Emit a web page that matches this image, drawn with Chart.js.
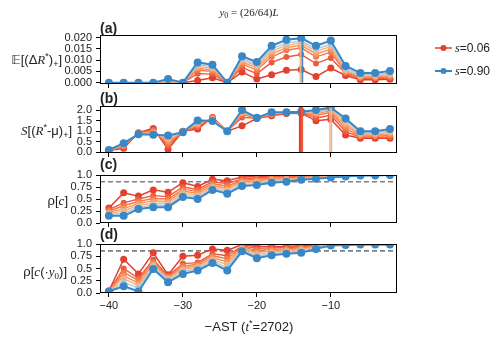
<!DOCTYPE html>
<html><head><meta charset="utf-8">
<script src="https://cdn.jsdelivr.net/npm/chart.js@4/dist/chart.umd.min.js"></script>
<style>
html,body{margin:0;padding:0;background:#fff;width:500px;height:343px;overflow:hidden}
canvas{position:absolute;left:0;top:0}
</style></head><body>
<canvas id="ca" width="500" height="343"></canvas>
<canvas id="cb" width="500" height="343"></canvas>
<canvas id="cc" width="500" height="343"></canvas>
<canvas id="cd" width="500" height="343"></canvas>
<canvas id="ov" width="500" height="343"></canvas>
<script>
// ---------------- DATA ----------------
const xValues = [-40,-38,-36,-34,-32,-30,-28,-26,-24,-22,-20,-18,-16,-14,-12,-10,-8,-6,-4,-2];
const sValues = [0.06, 0.20, 0.34, 0.48, 0.62, 0.76, 0.90];
const xTicks = [-40,-30,-20,-10];

// (a) E[(dR*)+], rows ordered s=0.06 ... s=0.90
const panelA = [
  [0,0,0,0,0,0,0.0010,0.0022,0,0.0047,0.0016,0.0035,0.0055,0.0058,0.0027,0.0065,0.0032,0.0013,0.0013,0.0015],
  [0,0,0,0,0,0,0.0040,0.0038,0,0.0068,0.0040,0.0090,0.0114,0.0125,0.0085,0.0110,0.0040,0.0018,0.0018,0.0021],
  [0,0,0,0,0.0001,0,0.0055,0.0050,0,0.0082,0.0056,0.0115,0.0144,0.0155,0.0115,0.0135,0.0045,0.0022,0.0022,0.0026],
  [0,0,0,0,0.0003,0,0.0064,0.0057,0,0.0090,0.0066,0.0128,0.0156,0.0166,0.0128,0.0148,0.0050,0.0026,0.0026,0.0031],
  [0,0,0,0,0.0006,0,0.0072,0.0064,0,0.0098,0.0074,0.0140,0.0166,0.0176,0.0140,0.0160,0.0055,0.0030,0.0030,0.0036],
  [0,0,0,0,0.0010,0,0.0080,0.0071,0,0.0106,0.0082,0.0150,0.0176,0.0185,0.0150,0.0172,0.0062,0.0035,0.0035,0.0042],
  [0,0,0,0,0.0016,0,0.0090,0.0080,0,0.0117,0.0092,0.0164,0.0191,0.0198,0.0164,0.0187,0.0074,0.0043,0.0043,0.0052]
];
// (b) S[(R*-mu)+]
const panelB = [
  [0.08,0.19,0.93,1.13,0.14,1.00,1.10,1.65,1.00,1.25,1.60,1.73,1.84,1.85,1.49,1.56,0.82,0.66,0.66,0.66],
  [0.08,0.24,0.92,1.07,0.30,1.00,1.18,1.64,1.00,1.65,1.61,1.77,1.86,1.88,1.62,1.75,0.98,0.72,0.72,0.72],
  [0.09,0.29,0.91,1.01,0.40,0.99,1.25,1.62,1.00,1.78,1.62,1.80,1.87,1.90,1.74,1.89,1.12,0.77,0.77,0.79],
  [0.09,0.33,0.90,0.96,0.52,0.98,1.32,1.60,1.00,1.85,1.63,1.82,1.88,1.92,1.82,1.97,1.26,0.82,0.82,0.86],
  [0.10,0.37,0.88,0.91,0.63,0.97,1.38,1.56,1.00,1.90,1.63,1.84,1.88,1.93,1.88,2.03,1.38,0.88,0.88,0.94],
  [0.10,0.40,0.87,0.87,0.72,0.96,1.45,1.52,0.99,1.95,1.64,1.86,1.89,1.93,1.93,2.08,1.50,0.94,0.94,1.02],
  [0.11,0.43,0.85,0.83,0.80,0.95,1.51,1.48,0.99,2.00,1.64,1.89,1.89,1.92,2.00,2.12,1.60,1.00,1.00,1.10]
];
// (c) rho[c]
const panelC = [
  [0.31,0.63,0.56,0.69,0.64,0.84,0.76,0.91,0.88,0.96,0.97,0.98,0.98,0.99,1.00,1.00,1.00,1.00,1.00,1.00],
  [0.28,0.42,0.50,0.57,0.55,0.75,0.70,0.86,0.82,0.92,0.94,0.96,0.96,0.97,0.98,0.99,1.00,1.00,1.00,1.00],
  [0.25,0.36,0.45,0.51,0.50,0.70,0.66,0.82,0.77,0.89,0.91,0.93,0.94,0.96,0.97,0.99,0.99,1.00,1.00,1.00],
  [0.22,0.30,0.41,0.46,0.45,0.66,0.62,0.78,0.73,0.86,0.88,0.91,0.92,0.94,0.96,0.98,0.99,1.00,1.00,1.00],
  [0.20,0.25,0.37,0.41,0.41,0.62,0.58,0.75,0.69,0.83,0.85,0.88,0.90,0.93,0.94,0.97,0.98,0.99,1.00,1.00],
  [0.18,0.20,0.33,0.37,0.37,0.58,0.54,0.72,0.65,0.80,0.82,0.86,0.88,0.91,0.93,0.96,0.98,0.99,0.99,1.00],
  [0.15,0.15,0.29,0.33,0.33,0.54,0.50,0.69,0.61,0.77,0.79,0.84,0.86,0.90,0.92,0.95,0.97,0.99,0.99,1.00]
];
// (d) rho[c(.y0)]
const panelD = [
  [0.04,0.69,0.39,0.82,0.37,0.75,0.77,0.90,0.87,0.99,0.95,0.95,0.95,0.97,0.98,1.00,1.00,1.00,1.00,1.00],
  [0.04,0.50,0.30,0.68,0.35,0.60,0.62,0.80,0.76,0.96,0.91,0.92,0.93,0.94,0.97,0.99,0.99,0.99,0.99,0.99],
  [0.04,0.42,0.26,0.63,0.33,0.55,0.59,0.76,0.70,0.94,0.87,0.89,0.90,0.92,0.96,0.99,0.99,0.99,0.99,0.99],
  [0.04,0.35,0.20,0.59,0.31,0.51,0.56,0.72,0.64,0.92,0.83,0.86,0.88,0.90,0.95,0.98,0.99,0.99,0.99,0.99],
  [0.03,0.29,0.15,0.56,0.29,0.47,0.53,0.68,0.58,0.90,0.79,0.83,0.85,0.88,0.93,0.98,0.99,0.99,0.99,0.99],
  [0.03,0.22,0.10,0.53,0.26,0.43,0.50,0.65,0.52,0.88,0.75,0.80,0.83,0.85,0.92,0.97,0.99,0.99,0.99,0.99],
  [0.03,0.14,0.03,0.49,0.22,0.39,0.46,0.61,0.46,0.85,0.71,0.77,0.80,0.82,0.90,0.97,0.98,0.99,0.99,0.99]
];
// vertical spikes [x, yTop, seriesIndex]
const spikesA = [[-14.1, 0.0185, 4], [-13.85, 0.0198, 6]];
const spikesB = [[-14.15, 2.3, 0], [-13.9, 2.3, 1], [-10.1, 2.12, 4], [-9.9, 2.12, 5]];
const rhoThreshold = 0.86;

const yTicksA = [0, 0.005, 0.010, 0.015, 0.020];
const yLabelsA = ['0.000','0.005','0.010','0.015','0.020'];
const yTicksB = [0, 0.5, 1.0, 1.5, 2.0];
const yLabelsB = ['0.0','0.5','1.0','1.5','2.0'];
const yTicksR = [0, 0.25, 0.5, 0.75, 1.0];
const yLabelsR = ['0.0','0.25','0.5','0.75','1.0'];

// ---------------- STYLE ----------------
const colors = ['#e3402f','#ec5b3d','#f2774a','#f69459','#f8b27d','#a8c8e2','#3987c4'];
const radii  = [3.5, 3, 3, 3, 3, 3, 4];
const widths = [1.5, 1.4, 1.4, 1.4, 1.4, 1.4, 2];
const spikeWidthsB = [2.4, 2.4, 1.5, 1.5];
const X_MIN = -41.2, X_MAX = -1.05;
const LEFT = 100, RIGHT = 397, W = 500, H = 343;

const boxPlugin = {
  id: 'box',
  afterDraw(chart) {
    const a = chart.chartArea, c = chart.ctx;
    c.save(); c.strokeStyle = '#000'; c.lineWidth = 1;
    c.strokeRect(Math.round(a.left)+0.5, Math.round(a.top)+0.5, Math.round(a.right-a.left)-1, Math.round(a.bottom-a.top)-1);
    c.restore();
  }
};

function makePanel(id, rows, spikes, spikeWidths, yMin, yMax, yTicks, yLabels, top, bottom, showX, thresh) {
  const xh = showX ? 22 : 6;
  const ds = [];
  rows.forEach((row, k) => {
    ds.push({
      data: xValues.map((x, i) => ({x, y: row[i]})),
      borderColor: colors[k], backgroundColor: colors[k],
      pointRadius: radii[k], pointBorderWidth: 0, pointHoverRadius: radii[k],
      borderWidth: widths[k], showLine: true, tension: 0,
      order: rows.length - k + 5
    });
  });
  (spikes || []).forEach((sp, j) => {
    ds.push({
      data: [{x: sp[0], y: 0}, {x: sp[0], y: sp[1]}],
      borderColor: colors[sp[2]], borderWidth: spikeWidths ? spikeWidths[j] : 1.8, pointRadius: 0, showLine: true, order: 2
    });
  });
  if (thresh !== undefined) {
    ds.push({
      data: [{x: X_MIN, y: thresh}, {x: X_MAX, y: thresh}],
      borderColor: '#808080', borderWidth: 1.6, borderDash: [5, 3], pointRadius: 0, showLine: true, order: 100
    });
  }
  const gridOpt = {display: true, drawOnChartArea: false, drawTicks: true, tickLength: 4, color: '#000', lineWidth: 1};
  return new Chart(document.getElementById(id), {
    type: 'scatter',
    data: {datasets: ds},
    plugins: [boxPlugin],
    options: {
      responsive: false, animation: false, events: [],
      layout: {padding: {top: top, bottom: H - bottom - xh, left: 0, right: W - RIGHT}},
      plugins: {legend: {display: false}, tooltip: {enabled: false}},
      scales: {
        x: {
          type: 'linear', min: X_MIN, max: X_MAX,
          afterBuildTicks: s => { s.ticks = xTicks.map(v => ({value: v})); },
          afterFit: s => { s.height = xh; },
          grid: gridOpt, border: {display: false},
          ticks: {display: showX, autoSkip: false, maxRotation: 0, padding: 2, color: '#222', font: {family: 'Liberation Sans', size: 11},
                  callback: v => (v < 0 ? '\u2212' : '') + Math.abs(v)}
        },
        y: {
          type: 'linear', min: yMin, max: yMax,
          afterBuildTicks: s => { s.ticks = yTicks.map(v => ({value: v})); },
          afterFit: s => { s.width = LEFT; },
          grid: gridOpt, border: {display: false},
          ticks: {autoSkip: false, padding: 4, color: '#222', font: {family: 'Liberation Sans', size: 11},
                  callback: (v, i) => yLabels[i]}
        }
      }
    }
  });
}

makePanel('ca', panelA, spikesA, null, -0.0006, 0.0212, yTicksA, yLabelsA, 35, 84, false);
makePanel('cb', panelB, spikesB, spikeWidthsB, -0.033, 2.19, yTicksB, yLabelsB, 106, 153, false);
makePanel('cc', panelC, null, null, 0, 1, yTicksR, yLabelsR, 175, 223, false, rhoThreshold);
makePanel('cd', panelD, null, null, 0, 1, yTicksR, yLabelsR, 244, 293, true, rhoThreshold);

// ---------------- TEXT OVERLAY ----------------
const ov = document.getElementById('ov').getContext('2d');
function rich(segs, x, y, align) {
  let w = 0;
  segs.forEach(s => { ov.font = s[1]; w += ov.measureText(s[0]).width; });
  let cx = align === 'right' ? x - w : (align === 'center' ? x - w / 2 : x);
  ov.textBaseline = 'alphabetic'; ov.textAlign = 'left'; ov.fillStyle = '#222';
  segs.forEach(s => { ov.font = s[1]; ov.fillText(s[0], cx, y + (s[2] || 0)); cx += ov.measureText(s[0]).width; });
}
const SANS = '13px "Liberation Sans"', SERIF_I = 'italic 13px "Liberation Serif"', SMALL = '9px "Liberation Sans"';
// title
rich([['y', 'italic 11px "Liberation Serif"'], ['0', '8px "Liberation Serif"', 2], [' = (26/64)', '11px "Liberation Serif"'], ['L', 'italic 11px "Liberation Serif"']], 249, 16, 'center');
// panel letters
[['(a)', 33], ['(b)', 103], ['(c)', 169], ['(d)', 239]].forEach(p => rich([[p[0], 'bold 14px "Liberation Sans"']], 100, p[1], 'left'));
// y labels
rich([['\u{1D53C}', '13px "DejaVu Sans"'], ['[(\u0394', SANS], ['R', SERIF_I], ['*', SMALL, -5], [')', SANS], ['+', SMALL, 3], [']', SANS]], 62, 64, 'right');
rich([['S', SERIF_I], ['[(', SANS], ['R', SERIF_I], ['*', SMALL, -5], ['-\u03bc)', SANS], ['+', SMALL, 3], [']', SANS]], 72, 135, 'right');
rich([['\u03c1[', SANS], ['c', SERIF_I], [']', SANS]], 68, 205, 'right');
rich([['\u03c1[', SANS], ['c', SERIF_I], ['(\u00b7', SANS], ['y', SERIF_I], ['0', '9px "Liberation Serif"', 3], [')]', SANS]], 67, 276, 'right');
// x title
rich([['\u2212AST (', SANS], ['t', SERIF_I], ['*', SMALL, -5], ['=2702)', SANS]], 249, 331, 'center');
// legend
const legendEntries = [[0, 48], [6, 71]];
legendEntries.forEach(e => {
  const k = e[0], y = e[1];
  ov.strokeStyle = colors[k]; ov.lineWidth = widths[k];
  ov.beginPath(); ov.moveTo(435, y); ov.lineTo(452, y); ov.stroke();
  ov.fillStyle = colors[k]; ov.beginPath(); ov.arc(443.5, y, 3, 0, Math.PI * 2); ov.fill();
  rich([['s', 'italic 12px "Liberation Serif"'], ['=' + sValues[k].toFixed(2), '12px "Liberation Sans"']], 455, y + 4, 'left');
});
</script>
</body></html>
